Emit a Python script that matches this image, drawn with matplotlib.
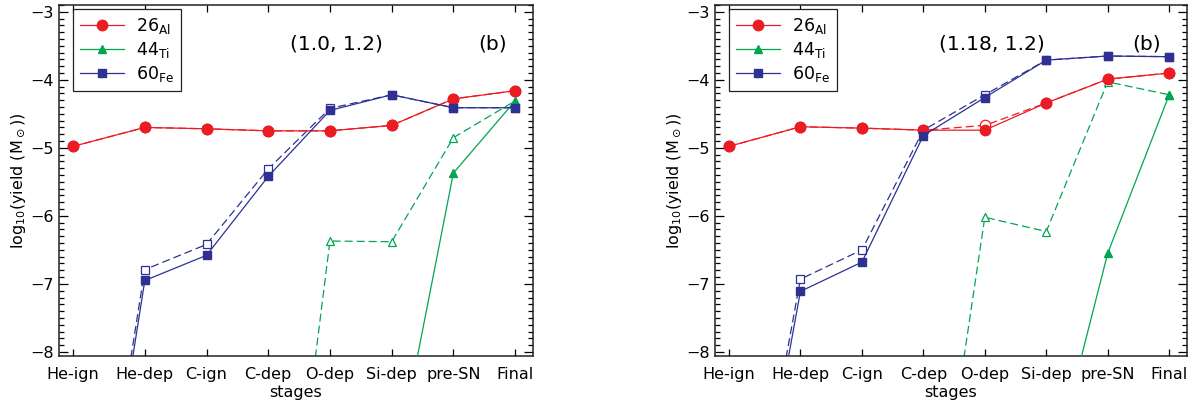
import matplotlib
matplotlib.use("Agg")
import numpy as np
import matplotlib.pyplot as plt
from matplotlib.ticker import MultipleLocator, FixedLocator

# Evolutionary stages along the x axis
stages = ["He-ign", "He-dep", "C-ign", "C-dep", "O-dep", "Si-dep", "pre-SN", "Final"]
stage_pos = [-0.17, 1, 2, 3, 4, 5, 6, 7]

# log10 yields (Msun); solid = filled markers, dashed = open markers
# panel (1.0, 1.2)
al26_a_solid = [-4.98, -4.70, -4.72, -4.75, -4.75, -4.67, -4.28, -4.16]
al26_a_dash = [-4.98, -4.70, -4.72, -4.75, -4.75, -4.67, -4.28, -4.16]
ti44_a_solid = [-16.0, -15.0, -14.0, -12.5, -11.0, -10.0, -5.37, -4.31]
ti44_a_dash = [-16.0, -15.5, -14.5, -13.6, -6.37, -6.38, -4.85, -4.31]
fe60_a_solid = [-13.7, -6.95, -6.58, -5.42, -4.45, -4.22, -4.41, -4.41]
fe60_a_dash = [-13.5, -6.79, -6.42, -5.31, -4.42, -4.22, -4.41, -4.41]

# panel (1.18, 1.2)
al26_b_solid = [-4.98, -4.69, -4.71, -4.74, -4.74, -4.34, -3.99, -3.90]
al26_b_dash = [-4.98, -4.69, -4.71, -4.74, -4.67, -4.34, -3.99, -3.90]
ti44_b_solid = [-16.0, -15.0, -14.0, -13.0, -11.5, -10.1, -6.55, -4.22]
ti44_b_dash = [-16.0, -15.0, -14.0, -12.1, -6.02, -6.23, -4.03, -4.22]
fe60_b_solid = [-12.9, -7.11, -6.68, -4.82, -4.26, -3.71, -3.65, -3.66]
fe60_b_dash = [-12.7, -6.93, -6.50, -4.74, -4.22, -3.71, -3.65, -3.66]

panel_titles = ["(1.0, 1.2)", "(1.18, 1.2)"]
panel_tag = "(b)"

RED = "#ec1c24"
GREEN = "#00a651"
BLUE = "#2e3192"

plt.rcParams["font.family"] = ["DejaVu Sans"]
plt.rcParams["mathtext.fontset"] = "dejavusans"

fig = plt.figure(figsize=(11.98, 4.04), dpi=100)
W, H = 1198, 404
ax_l = fig.add_axes([59 / W, (H - 356) / H, 474 / W, 351 / H])
ax_r = fig.add_axes([715 / W, (H - 356) / H, 472 / W, 351 / H])

DASH = (6.4, 3.2)
LW = 0.9
FS = 11.5


def draw_panel(ax, al_s, al_d, ti_s, ti_d, fe_s, fe_d, title):
    x = np.array(stage_pos)
    # dashed series with open markers
    ax.plot(x, al_d, color=RED, lw=LW, dashes=DASH, marker="o", ms=7.5,
            mfc="white", mec=RED, mew=0.9, zorder=2)
    ax.plot(x, ti_d, color=GREEN, lw=LW, dashes=DASH, marker="^", ms=6,
            mfc="white", mec=GREEN, mew=0.9, zorder=2)
    ax.plot(x, fe_d, color=BLUE, lw=LW, dashes=DASH, marker="s", ms=5.5,
            mfc="white", mec=BLUE, mew=0.9, zorder=2)
    # solid series with filled markers
    h1, = ax.plot(x, al_s, color=RED, lw=LW, marker="o", ms=7.5,
                  mfc=RED, mec=RED, zorder=3, label=r"$\mathregular{26_{Al}}$")
    h2, = ax.plot(x, ti_s, color=GREEN, lw=LW, marker="^", ms=6,
                  mfc=GREEN, mec=GREEN, zorder=3, label=r"$\mathregular{44_{Ti}}$")
    h3, = ax.plot(x, fe_s, color=BLUE, lw=LW, marker="s", ms=5.5,
                  mfc=BLUE, mec=BLUE, zorder=3, label=r"$\mathregular{60_{Fe}}$")

    ax.set_xlim(-0.39, 7.29)
    ax.set_ylim(-8.06, -2.90)
    ax.xaxis.set_major_locator(FixedLocator(stage_pos))
    ax.set_xticklabels(stages, fontsize=FS)
    ax.yaxis.set_minor_locator(MultipleLocator(0.1))
    ax.set_yticks([-8, -7, -6, -5, -4, -3])
    ax.tick_params(axis="x", which="major", direction="in", length=5,
                   width=0.9, top=True, pad=8, labelsize=FS)
    ax.tick_params(axis="y", which="major", direction="in", length=6.8,
                   width=0.9, right=True, pad=4, labelsize=FS)
    ax.tick_params(axis="y", which="minor", direction="in", length=3.4,
                   width=0.9, right=True)
    for sp in ax.spines.values():
        sp.set_linewidth(1.1)
        sp.set_color("#222222")
    ax.set_xlabel("stages", fontsize=FS, labelpad=2)
    ax.set_ylabel(r"log$_{10}$(yield (M$_\odot$))", fontsize=11.5, labelpad=1)

    ax.text(0.586, 0.889, title, transform=ax.transAxes, fontsize=14.5,
            ha="center", va="center")
    ax.text(0.915, 0.889, panel_tag, transform=ax.transAxes, fontsize=14.5,
            ha="center", va="center")

    leg = ax.legend(handles=[h1, h2, h3], loc="upper left",
                    bbox_to_anchor=(0.03, 0.989), borderaxespad=0,
                    fontsize=12.5, handlelength=2.5, handletextpad=0.7,
                    labelspacing=0.25, borderpad=0.4, fancybox=False,
                    framealpha=1, edgecolor="#222222")
    leg.get_frame().set_linewidth(0.9)


draw_panel(ax_l, al26_a_solid, al26_a_dash, ti44_a_solid, ti44_a_dash,
           fe60_a_solid, fe60_a_dash, panel_titles[0])
draw_panel(ax_r, al26_b_solid, al26_b_dash, ti44_b_solid, ti44_b_dash,
           fe60_b_solid, fe60_b_dash, panel_titles[1])

fig.savefig("out.png", dpi=100)
